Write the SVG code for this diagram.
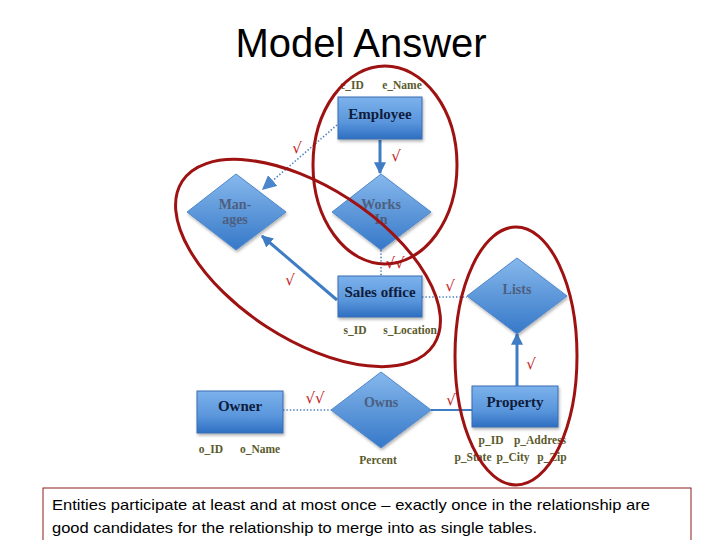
<svg xmlns="http://www.w3.org/2000/svg" width="720" height="540" viewBox="0 0 720 540">
<defs>
  <linearGradient id="gBox" x1="0" y1="0" x2="0" y2="1">
    <stop offset="0" stop-color="#7cb2ec"/>
    <stop offset="0.6" stop-color="#5a96dc"/>
    <stop offset="1" stop-color="#2f6fc2"/>
  </linearGradient>
  <linearGradient id="gDia" x1="0" y1="0" x2="0" y2="1">
    <stop offset="0" stop-color="#86b8ec"/>
    <stop offset="1" stop-color="#3678c8"/>
  </linearGradient>
  <filter id="sh" x="-20%" y="-20%" width="140%" height="150%">
    <feDropShadow dx="1" dy="2" stdDeviation="1.5" flood-color="#000" flood-opacity="0.3"/>
  </filter>
  <marker id="ah" viewBox="0 0 10 10" refX="9" refY="5" markerWidth="4" markerHeight="4" orient="auto" markerUnits="strokeWidth">
    <path d="M0,0 L10,5 L0,10 z" fill="#3f7cc4"/>
  </marker>
  <marker id="ahd" viewBox="0 0 10 10" refX="9" refY="5" markerWidth="9" markerHeight="9" orient="auto" markerUnits="strokeWidth">
    <path d="M0,0 L10,5 L0,10 z" fill="#4a86cc"/>
  </marker>
  <style>
    .box{fill:url(#gBox);stroke:#3a6db0;stroke-width:1;filter:url(#sh)}
    .dia{fill:url(#gDia);stroke:#4f88cc;stroke-width:1;filter:url(#sh)}
    .et{font-family:"Liberation Serif","DejaVu Serif",serif;font-weight:bold;font-size:15px;fill:#0f1c3c;text-anchor:middle}
    .rt{font-family:"Liberation Serif","DejaVu Serif",serif;font-weight:bold;font-size:14px;fill:#4d5f80;text-anchor:middle}
    .at{font-family:"Liberation Serif","DejaVu Serif",serif;font-weight:bold;font-size:11.5px;fill:#5a5a2c;text-anchor:middle}
    .ck{font-family:"DejaVu Sans",sans-serif;font-size:15px;fill:#c41e24;text-anchor:middle}
    .solid{stroke:#3f7cc4;stroke-width:3;fill:none}
    .thin{stroke:#3f7cc4;stroke-width:2;fill:none}
    .dot{stroke:#4a7fbf;stroke-width:1.6;stroke-dasharray:1.4 2;fill:none}
    .ring{fill:none;stroke:#9e1212;stroke-width:3}
    .title{font-family:"Liberation Sans",Arial,sans-serif;font-size:40px;fill:#000;text-anchor:middle}
    .note{font-family:"Liberation Sans",Arial,sans-serif;font-size:15px;fill:#000}
  </style>
</defs>
<rect width="720" height="540" fill="#fff"/>
<text class="title" x="361" y="57">Model Answer</text>

<g id="connectors">
  <line class="solid" x1="380" y1="140" x2="380" y2="173" marker-end="url(#ah)"/>
  <line class="dot" x1="337" y1="125" x2="263" y2="189" marker-end="url(#ahd)"/>
  <line class="solid" x1="337" y1="300" x2="262" y2="236" marker-end="url(#ah)"/>
  <line class="dot" x1="381" y1="250" x2="381" y2="276"/>
  <line class="dot" x1="422" y1="297" x2="467" y2="297"/>
  <line class="solid" x1="517" y1="386" x2="517" y2="334" marker-end="url(#ah)"/>
  <line class="dot" x1="283" y1="410" x2="331" y2="410"/>
  <line class="thin" x1="431" y1="410" x2="472" y2="410"/>
</g>

<g id="employee">
  <rect class="box" x="338" y="97" width="84" height="42"/>
  <text class="et" x="380" y="119">Employee</text>
  <text class="at" x="352" y="89">e_ID</text>
  <text class="at" x="402" y="89">e_Name</text>
</g>
<g id="manages">
  <polygon class="dia" points="236,174 286,212 236,250 187,212"/>
  <text class="rt" x="235" y="209">Man-</text>
  <text class="rt" x="235" y="224">ages</text>
</g>
<g id="worksin">
  <polygon class="dia" points="381,174 431,212 381,250 332,212"/>
  <text class="rt" x="381" y="209">Works</text>
  <text class="rt" x="381" y="224">In</text>
</g>
<g id="salesoffice">
  <rect class="box" x="338" y="276" width="84" height="41"/>
  <text class="et" x="380" y="297">Sales office</text>
  <text class="at" x="355" y="334">s_ID</text>
  <text class="at" x="410" y="334">s_Location</text>
</g>
<g id="lists">
  <polygon class="dia" points="517,258 567,296 517,334 467,296"/>
  <text class="rt" x="517" y="294">Lists</text>
</g>
<g id="property">
  <rect class="box" x="472" y="386" width="86" height="41"/>
  <text class="et" x="515" y="407">Property</text>
  <text class="at" x="491" y="444">p_ID</text>
  <text class="at" x="540" y="444">p_Address</text>
  <text class="at" x="473" y="461">p_State</text>
  <text class="at" x="513" y="461">p_City</text>
  <text class="at" x="552" y="461">p_Zip</text>
</g>
<g id="owner">
  <rect class="box" x="197" y="391" width="86" height="42"/>
  <text class="et" x="240" y="411">Owner</text>
  <text class="at" x="211" y="453">o_ID</text>
  <text class="at" x="260" y="453">o_Name</text>
</g>
<g id="owns">
  <polygon class="dia" points="381,372 431,410 381,448 331,410"/>
  <text class="rt" x="381" y="407">Owns</text>
  <text class="at" x="378" y="464">Percent</text>
</g>

<g id="checks">
  <text class="ck" x="297" y="153">√</text>
  <text class="ck" x="396" y="161">√</text>
  <text class="ck" x="290" y="285">√</text>
  <text class="ck" x="395" y="268">√√</text>
  <text class="ck" x="450" y="291">√</text>
  <text class="ck" x="531" y="369">√</text>
  <text class="ck" x="315" y="403">√√</text>
  <text class="ck" x="451" y="405">√</text>
</g>

<g id="rings">
  <ellipse class="ring" cx="385" cy="165" rx="72" ry="99"/>
  <ellipse class="ring" cx="308" cy="263" rx="150" ry="76" transform="rotate(33 308 263)"/>
  <ellipse class="ring" cx="516" cy="356" rx="61" ry="129"/>
</g>

<g id="note">
  <rect x="43" y="488" width="648" height="60" fill="#fff" stroke="#8e1c1c" stroke-width="1"/>
  <text class="note" x="52" y="510" textLength="598" lengthAdjust="spacingAndGlyphs">Entities participate at least and at most once – exactly once in the relationship are</text>
  <text class="note" x="52" y="533" textLength="485" lengthAdjust="spacingAndGlyphs">good candidates for the relationship to merge into as single tables.</text>
</g>
</svg>
